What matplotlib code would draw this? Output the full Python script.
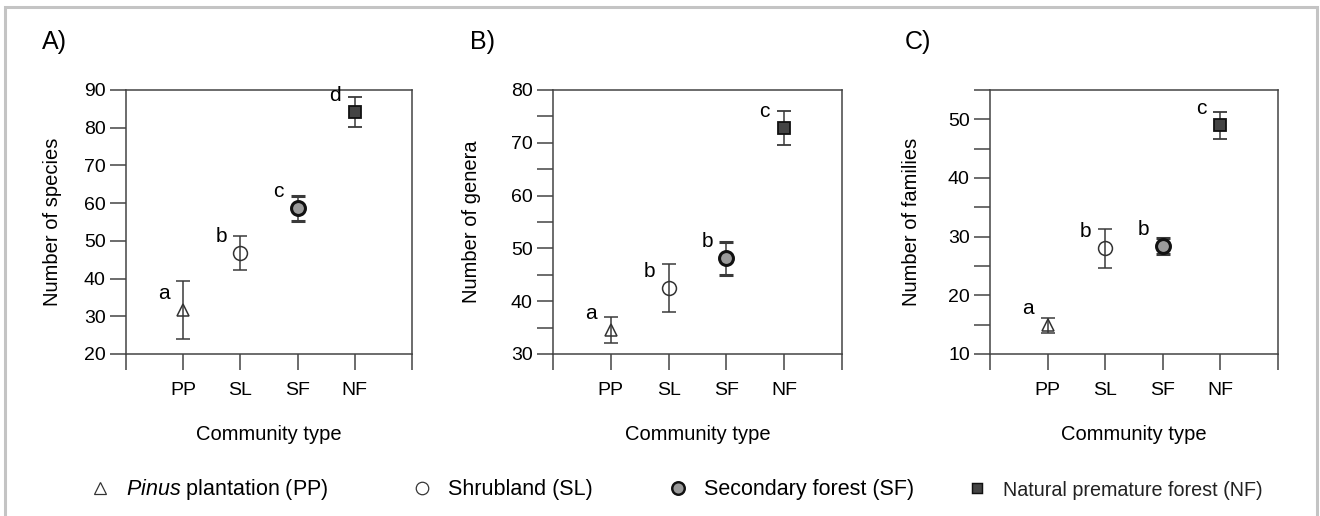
import numpy as np
import matplotlib
matplotlib.use("Agg")
import matplotlib.pyplot as plt
from matplotlib.lines import Line2D
from matplotlib.patches import Rectangle
from matplotlib.ticker import MultipleLocator

plt.rcParams['font.family'] = ['Liberation Sans', 'DejaVu Sans']
plt.rcParams['mathtext.fontset'] = 'custom'
plt.rcParams['mathtext.it'] = 'Liberation Sans:italic'
plt.rcParams['mathtext.rm'] = 'Liberation Sans'

# data
community = ['PP', 'SL', 'SF', 'NF']
species_mean = [31.7, 46.8, 58.6, 84.1]
species_err = [7.6, 4.4, 3.4, 4.0]
species_letters = ['a', 'b', 'c', 'd']
genera_mean = [34.5, 42.5, 48.1, 72.8]
genera_err = [2.5, 4.6, 3.1, 3.2]
genera_letters = ['a', 'b', 'b', 'c']
families_mean = [14.9, 28.0, 28.4, 49.0]
families_err = [1.3, 3.3, 1.3, 2.3]
families_letters = ['a', 'b', 'b', 'c']

legend_labels = [r'$\it{Pinus}$ plantation (PP)', 'Shrubland (SL)',
                 'Secondary forest (SF)', 'Natural premature forest (NF)']

# marker style per community type
styles = [
    dict(marker='^', ms=9, mfc='none', mec='#333333', mew=1.1),
    dict(marker='o', ms=10, mfc='none', mec='#333333', mew=1.1),
    dict(marker='o', ms=10, mfc='#9a9a9a', mec='#111111', mew=2.2),
    dict(marker='s', ms=8, mfc='#444444', mec='#111111', mew=1.3),
]

panels = [
    ('A)', species_mean, species_err, species_letters, 'Number of species', (20, 90), None),
    ('B)', genera_mean, genera_err, genera_letters, 'Number of genera', (30, 80), 5),
    ('C)', families_mean, families_err, families_letters, 'Number of families', (10, 55), 5),
]
ax_left = [126, 553, 990]
ax_width = [286, 289, 288]
ylab_x = [62, 481, 921]
title_x = [42, 470, 905]

W, H = 1320, 516
fig = plt.figure(figsize=(13.2, 5.16), dpi=100)

# light grey frame around the whole figure
fig.patches.append(Rectangle((5 / W, -0.02), (1317 - 5) / W, 1.02 - 7 / H,
                             transform=fig.transFigure, fill=False,
                             edgecolor='#c4c4c4', lw=2.2))

x = np.arange(1, len(community) + 1)
for i, (tag, mean, err, letters, ylab, ylim, minor) in enumerate(panels):
    ax = fig.add_axes([ax_left[i] / W, (H - 354) / H, ax_width[i] / W, 264 / H])
    for j in range(len(community)):
        ax.errorbar(x[j], mean[j], yerr=err[j], color='#3a3a3a', lw=1.1,
                    capsize=5, capthick=1.1, ls='none', zorder=2, **styles[j])
        ax.annotate(letters[j], (x[j], mean[j]), xytext=(-14, 5),
                    textcoords='offset points', ha='center', va='bottom',
                    fontsize=15)
    ax.set_xlim(0, 5)
    ax.set_ylim(*ylim)
    ax.set_xticks(np.arange(0, 6))
    ax.set_xticklabels([''] + community + [''])
    ax.yaxis.set_major_locator(MultipleLocator(10))
    if minor:
        ax.yaxis.set_minor_locator(MultipleLocator(minor))
    ax.tick_params(which='both', direction='out', length=11.5, width=1.1,
                   color='#444444', labelsize=14)
    ax.tick_params(axis='x', pad=8.5)
    ax.tick_params(axis='y', pad=3)
    for s in ax.spines.values():
        s.set_color('#444444')
        s.set_linewidth(1.1)
    ax.set_ylabel(ylab, fontsize=14.5)
    ax.yaxis.set_label_coords((ylab_x[i] - ax_left[i]) / ax_width[i], 0.5)
    ax.set_xlabel('Community type', fontsize=14.5)
    ax.xaxis.set_label_coords(0.5, -0.27)
    fig.text(title_x[i] / W, 1 - 42 / H, tag, fontsize=18, va='center', ha='left')

# legend entries spaced like the original
leg_x = [89, 411, 667, 966]
for j in range(len(community)):
    st = styles[j]
    h = Line2D([], [], ls='none', marker=st['marker'], ms=st['ms'] * 0.9,
               mfc=st['mfc'], mec=st['mec'], mew=st['mew'] * 0.8)
    lg = fig.legend(handles=[h], labels=[legend_labels[j]], loc='center left',
                    bbox_to_anchor=(leg_x[j] / W, 1 - 490 / H), frameon=False,
                    fontsize=15.5, handlelength=1.0, handletextpad=0.7,
                    borderpad=0, borderaxespad=0)
    if j == 3:
        for t in lg.get_texts():
            t.set_fontsize(14.2)
            t.set_color('#222222')

fig.savefig('out.png', dpi=100)
